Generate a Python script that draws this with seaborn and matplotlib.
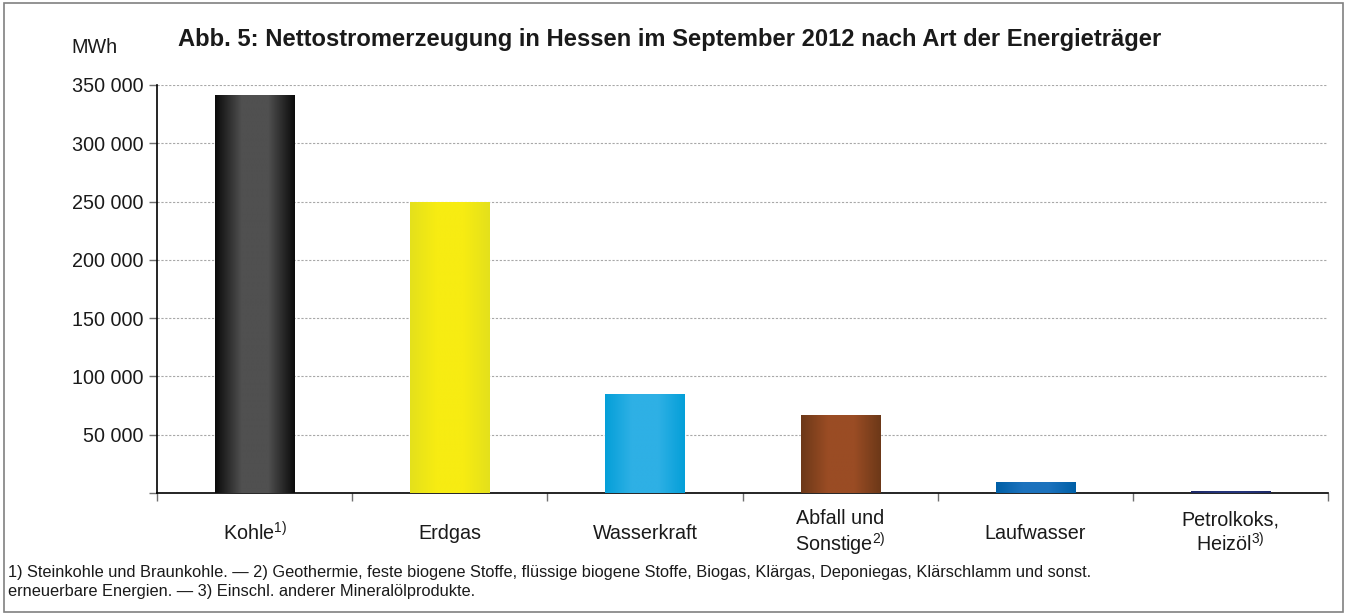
import numpy as np
import pandas as pd
import matplotlib
matplotlib.use("Agg")
import matplotlib.pyplot as plt
import matplotlib.ticker as mticker
from matplotlib.colors import LinearSegmentedColormap
from matplotlib.patches import Rectangle
import seaborn as sns

# Data
categories = ["Kohle", "Erdgas", "Wasserkraft", "Abfall und Sonstige", "Laufwasser", "Petrolkoks, Heizöl"]
tick_labels = ["Kohle$^{1)}$", "Erdgas", "Wasserkraft", "Abfall und\nSonstige$^{2)}$",
               "Laufwasser", "Petrolkoks,\nHeizöl$^{3)}$"]
values = [341000, 249500, 84900, 66900, 9400, 1700]
edge_colors = ["#0a0a0a", "#e4e01c", "#049fd8", "#6c3818", "#005fa6", "#1c2866"]
center_colors = ["#505050", "#f7ec12", "#2eb0e5", "#9a4c24", "#1c72bd", "#24347a"]

sns.set_theme(style="white")
plt.rcParams["font.family"] = ["Liberation Sans", "DejaVu Sans"]
plt.rcParams["mathtext.fontset"] = "custom"
plt.rcParams["mathtext.rm"] = "Liberation Sans"
plt.rcParams["mathtext.default"] = "regular"

df = pd.DataFrame({"Energietraeger": categories, "MWh": values})

fig = plt.figure(figsize=(13.47, 6.14), dpi=100)
ax = fig.add_axes([0.1166, 0.1971, 0.8693, 0.6645])

sns.barplot(data=df, x="Energietraeger", y="MWh", hue="Energietraeger",
            palette=center_colors, width=0.405, legend=False, ax=ax, zorder=2)

# horizontal gradient on each bar (dark edges, light middle)
for patch, c_edge, c_mid in zip(ax.patches, edge_colors, center_colors):
    x0, y0 = patch.get_x(), patch.get_y()
    w, h = patch.get_width(), patch.get_height()
    cmap = LinearSegmentedColormap.from_list("g", [c_edge, c_mid, c_mid, c_edge])
    grad = np.linspace(0, 1, 256).reshape(1, -1)
    im = ax.imshow(grad, cmap=cmap, aspect="auto", extent=[x0, x0 + w, y0, y0 + h],
                   zorder=3, interpolation="bilinear")
    im.set_clip_path(patch)

ax.set_xlim(-0.5, 5.5)
ax.set_ylim(0, 350000)
ax.set_xlabel("")
ax.set_ylabel("")

ax.yaxis.set_major_locator(mticker.MultipleLocator(50000))
ax.yaxis.set_major_formatter(mticker.FuncFormatter(
    lambda v, p: "" if v == 0 else f"{int(v):,}".replace(",", " ")))
ax.yaxis.grid(True, linestyle=(0, (2, 1.5)), color="#a8a8a8", linewidth=0.8, zorder=0)
ax.set_axisbelow(True)

ax.set_xticks(range(len(categories)))
ax.set_xticklabels(tick_labels, fontsize=14.2, multialignment="center", linespacing=1.15)
for lab in ax.get_xticklabels():
    lab.set_verticalalignment("center")
ax.set_xticks(np.arange(-0.5, 6, 1), minor=True)
ax.tick_params(axis="x", which="both", bottom=True)
ax.tick_params(axis="y", which="both", left=True)
ax.tick_params(axis="x", which="major", length=0, pad=29, labelcolor="#1a1a1a")
ax.tick_params(axis="x", which="minor", length=6, width=1, color="#707070", direction="out")
ax.tick_params(axis="y", which="major", length=6, width=1, color="#707070", direction="out",
               labelsize=14.2, labelcolor="#1a1a1a", pad=4)

for s in ["top", "right"]:
    ax.spines[s].set_visible(False)
for s in ["left", "bottom"]:
    ax.spines[s].set_color("black")
    ax.spines[s].set_linewidth(1.2)

fig.text(0.07, 0.923, "MWh", fontsize=14.2, ha="center", va="center", color="#1a1a1a")
fig.text(0.132, 0.935, "Abb. 5: Nettostromerzeugung in Hessen im September 2012 nach Art der Energieträger",
         fontsize=17.1, fontweight="bold", ha="left", va="center", color="#1a1a1a")
fig.text(0.006, 0.052,
         "1) Steinkohle und Braunkohle. — 2) Geothermie, feste biogene Stoffe, flüssige biogene Stoffe, Biogas, "
         "Klärgas, Deponiegas, Klärschlamm und sonst.\nerneuerbare Energien. — 3) Einschl. anderer Mineralölprodukte.",
         fontsize=11.8, ha="left", va="center", color="#1a1a1a", linespacing=1.4)

fig.patches.append(Rectangle((0.003, 0.003), 0.994, 0.992, transform=fig.transFigure,
                             fill=False, edgecolor="#808080", linewidth=1.2))

fig.savefig("out.png", dpi=100)
